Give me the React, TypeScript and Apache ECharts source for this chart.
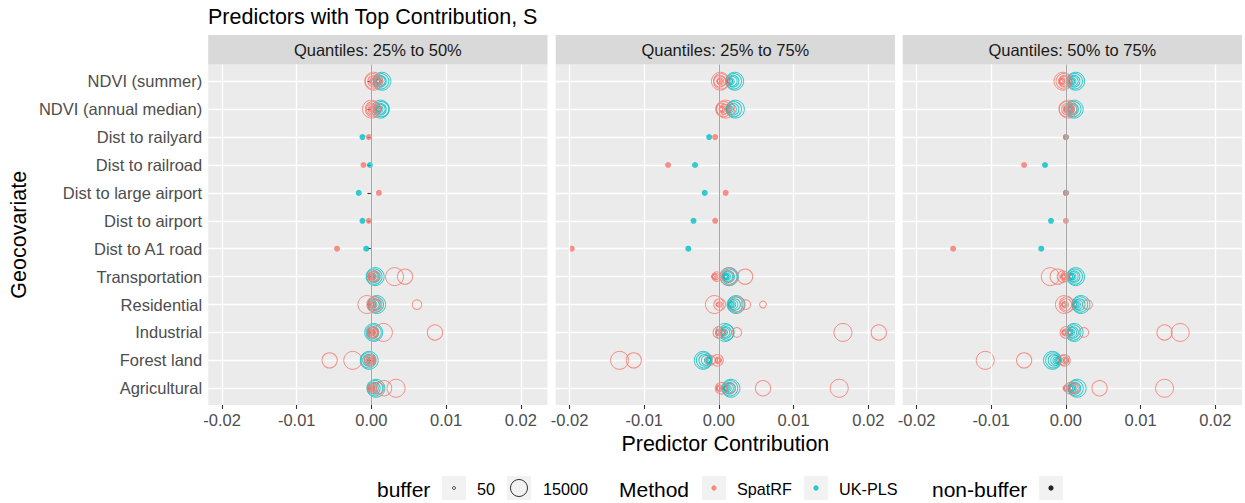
import React, { useEffect, useRef } from "react";
import * as echarts from "echarts";

const TITLE = "Predictors with Top Contribution, S";
const X_TITLE = "Predictor Contribution";
const Y_TITLE = "Geocovariate";
const PANELS = ["Quantiles: 25% to 50%", "Quantiles: 25% to 75%", "Quantiles: 50% to 75%"];
const CATEGORIES = [
  "NDVI (summer)",
  "NDVI (annual median)",
  "Dist to railyard",
  "Dist to railroad",
  "Dist to large airport",
  "Dist to airport",
  "Dist to A1 road",
  "Transportation",
  "Residential",
  "Industrial",
  "Forest land",
  "Agricultural",
];
const X_MAJOR = [-0.02, -0.01, 0, 0.01, 0.02];
const X_MINOR = [-0.015, -0.005, 0.005, 0.015];
const BUFFERS = [50, 100, 300, 500, 1000, 3000, 5000, 10000, 15000];
const NON_BUFFER_VARS = ["Dist to railyard", "Dist to railroad", "Dist to large airport", "Dist to airport", "Dist to A1 road"];

// non-buffer predictors, one value per variable (order of NON_BUFFER_VARS), one row per panel
const SPATRF_NONBUF = [
  [-0.00035, -0.00106, 0.001, -0.00035, -0.0046],
  [-0.0005, -0.0068, 0.0009, -0.0005, -0.0197],
  [0.0, -0.0056, 0.0, 0.0, -0.0151],
];
const UKPLS_NONBUF = [
  [-0.0012, -0.0002, -0.0017, -0.0012, -0.0007],
  [-0.0013, -0.0032, -0.0019, -0.0034, -0.0041],
  [0.0, -0.0028, 0.0, -0.002, -0.0033],
];

// buffer predictors: values in the order of BUFFERS
const SPATRF_BUF_25_50: Record<string, number[]> = {
  "NDVI (summer)": [0.0001, 0.0001, 0.0002, 0.0002, 0.0003, 0.0004, 0.0003, 0.0002, 0.0003],
  "NDVI (annual median)": [0.0, 0.0, 0.0001, 0.0001, 0.0002, 0.0002, 0.0001, 0.0002, 0.0],
  Transportation: [0.0, 0.0, 0.0, 0.0, 0.0001, 0.0002, 0.0003, 0.0045, 0.0031],
  Residential: [0.0, 0.0, 0.0, 0.0, 0.0001, 0.0061, 0.0003, 0.0004, -0.0006],
  Industrial: [0.0, 0.0, 0.0, 0.0, 0.0, 0.0001, 0.0002, 0.0085, 0.0016],
  "Forest land": [0.0, 0.0, 0.0, 0.0, 0.0, -0.0001, -0.0002, -0.0056, -0.0025],
  Agricultural: [0.0, 0.0, 0.0, 0.0, 0.0, 0.0001, 0.0009, 0.0017, 0.0033],
};
const UKPLS_BUF_25_50: Record<string, number[]> = {
  "NDVI (summer)": [0.0009, 0.0009, 0.001, 0.001, 0.0011, 0.0012, 0.0012, 0.0013, 0.0014],
  "NDVI (annual median)": [0.0008, 0.0009, 0.001, 0.001, 0.0011, 0.0012, 0.0012, 0.0013, 0.0012],
  Transportation: [0.0, 0.0, 0.0001, 0.0001, 0.0002, 0.0003, 0.0004, 0.0004, 0.0005],
  Residential: [0.0001, 0.0001, 0.0002, 0.0002, 0.0003, 0.0004, 0.0005, 0.0006, 0.0007],
  Industrial: [0.0, 0.0, 0.0001, 0.0001, 0.0001, 0.0002, 0.0002, 0.0003, 0.0003],
  "Forest land": [-0.0001, -0.0001, -0.0002, -0.0002, -0.0003, -0.0003, -0.0004, -0.0004, -0.0003],
  Agricultural: [0.0, 0.0, 0.0001, 0.0001, 0.0002, 0.0003, 0.0004, 0.0005, 0.0006],
};
const SPATRF_BUF_25_75: Record<string, number[]> = {
  "NDVI (summer)": [0.0, 0.0, 0.0001, 0.0001, 0.0002, 0.0004, 0.0001, 0.0003, 0.0002],
  "NDVI (annual median)": [0.0003, 0.0003, 0.0004, 0.0004, 0.0005, 0.0007, 0.0004, 0.0006, 0.0009],
  Transportation: [-0.0008, -0.0007, -0.0006, -0.0005, -0.0004, -0.0003, 0.0012, 0.0035, 0.0013],
  Residential: [-0.0002, -0.0001, 0.0, 0.0001, 0.0059, 0.0036, 0.0001, 0.0024, -0.0006],
  Industrial: [-0.0001, -0.0001, -0.0001, 0.0, 0.0, 0.0024, 0.0, 0.0214, 0.0166],
  "Forest land": [0.0, 0.0, -0.0001, -0.0001, -0.0001, -0.0011, -0.0002, -0.0114, -0.0133],
  Agricultural: [0.0, 0.0, 0.0, 0.0, 0.0001, 0.0016, 0.0003, 0.0059, 0.0161],
};
const UKPLS_BUF_25_75: Record<string, number[]> = {
  "NDVI (summer)": [0.0013, 0.0014, 0.0015, 0.0015, 0.0016, 0.0018, 0.0019, 0.002, 0.0021],
  "NDVI (annual median)": [0.0011, 0.0012, 0.0013, 0.0014, 0.0015, 0.0017, 0.0019, 0.002, 0.0022],
  Transportation: [0.0009, 0.0009, 0.001, 0.001, 0.0011, 0.0012, 0.0013, 0.0014, 0.0014],
  Residential: [0.0014, 0.0015, 0.0016, 0.0017, 0.0018, 0.0019, 0.0021, 0.0022, 0.0023],
  Industrial: [0.0005, 0.0005, 0.0006, 0.0006, 0.0007, 0.0008, 0.0009, 0.001, 0.0008],
  "Forest land": [-0.0012, -0.0013, -0.0014, -0.0014, -0.0015, -0.0017, -0.0019, -0.002, -0.0021],
  Agricultural: [0.0008, 0.0009, 0.001, 0.0011, 0.0012, 0.0013, 0.0014, 0.0015, 0.0016],
};
const SPATRF_BUF_50_75: Record<string, number[]> = {
  "NDVI (summer)": [-0.0006, -0.0006, -0.0005, -0.0005, -0.0004, -0.0003, -0.0002, -0.0003, -0.0004],
  "NDVI (annual median)": [0.0, 0.0, 0.0001, 0.0001, 0.0002, 0.0003, 0.0002, 0.0001, 0.0003],
  Transportation: [-0.0003, -0.0003, -0.0002, -0.0002, -0.0002, -0.0001, -0.0004, -0.0011, -0.0021],
  Residential: [-0.0003, -0.0003, -0.0002, -0.0002, -0.0001, 0.0029, 0.0, 0.0001, -0.0002],
  Industrial: [-0.0002, -0.0002, -0.0002, -0.0001, -0.0001, 0.0024, 0.0, 0.0132, 0.0153],
  "Forest land": [0.0, 0.0, 0.0, 0.0, -0.0001, -0.0003, -0.0002, -0.0056, -0.0108],
  Agricultural: [0.0, 0.0, 0.0, 0.0, 0.0001, 0.0012, 0.0006, 0.0045, 0.0132],
};
const UKPLS_BUF_50_75: Record<string, number[]> = {
  "NDVI (summer)": [0.0006, 0.0007, 0.0008, 0.0008, 0.0009, 0.001, 0.0011, 0.0012, 0.0013],
  "NDVI (annual median)": [0.0005, 0.0005, 0.0006, 0.0006, 0.0007, 0.0008, 0.0009, 0.001, 0.0011],
  Transportation: [0.0007, 0.0007, 0.0008, 0.0008, 0.0009, 0.001, 0.0011, 0.0012, 0.0013],
  Residential: [0.0012, 0.0012, 0.0013, 0.0014, 0.0015, 0.0016, 0.0018, 0.0019, 0.002],
  Industrial: [0.0005, 0.0005, 0.0006, 0.0006, 0.0007, 0.0008, 0.0009, 0.001, 0.0011],
  "Forest land": [-0.001, -0.001, -0.0011, -0.0012, -0.0013, -0.0014, -0.0016, -0.0017, -0.0018],
  Agricultural: [0.0007, 0.0007, 0.0008, 0.0008, 0.0009, 0.001, 0.0012, 0.0013, 0.0015],
};
const SPATRF_BUF = [SPATRF_BUF_25_50, SPATRF_BUF_25_75, SPATRF_BUF_50_75];
const UKPLS_BUF = [UKPLS_BUF_25_50, UKPLS_BUF_25_75, UKPLS_BUF_50_75];

const RED = "#F8766D";
const TEAL = "#00BFC4";
const FONT = "'Liberation Sans', Arial, sans-serif";

const X_MIN = -0.02185;
const X_MAX = 0.02357;
const PANEL_LEFT = [208.2, 555.7, 902.7];
const PANEL_W = 339.3;
const PANEL_TOP = 64.5;
const PANEL_H = 340.5;
const UNIT = PANEL_H / (CATEGORIES.length - 1 + 1.2);
const INNER_TOP = PANEL_TOP + 0.6 * UNIT;
const INNER_H = (CATEGORIES.length - 1) * UNIT;

const B_MIN = BUFFERS[0];
const B_MAX = BUFFERS[BUFFERS.length - 1];
function bufferSize(b: number) {
  return 3 + 15 * Math.sqrt((b - B_MIN) / (B_MAX - B_MIN));
}

function bufData(table: Record<string, number[]>) {
  const out: any[] = [];
  Object.keys(table).forEach((k) => {
    table[k].forEach((v, i) => out.push([v, k, BUFFERS[i]]));
  });
  return out;
}
function nonBufData(row: number[]) {
  return row.map((v, i) => [v, NON_BUFFER_VARS[i]]);
}

export default function App() {
  const ref = useRef<HTMLDivElement>(null);
  useEffect(() => {
    if (!ref.current) return;
    const chart = echarts.init(ref.current, undefined, { renderer: "svg" });
    const grid: any[] = [];
    const xAxis: any[] = [];
    const yAxis: any[] = [];
    const series: any[] = [];
    const graphic: any[] = [];

    PANELS.forEach((label, p) => {
      const left = PANEL_LEFT[p];
      grid.push({
        left,
        top: PANEL_TOP,
        width: PANEL_W,
        height: PANEL_H,
        show: true,
        backgroundColor: "#EBEBEB",
        borderWidth: 0,
      });
      grid.push({ left, top: INNER_TOP, width: PANEL_W, height: INNER_H });

      xAxis.push({
        type: "value",
        gridIndex: 2 * p,
        min: X_MIN,
        max: X_MAX,
        axisLine: { show: false },
        axisTick: {
          show: true,
          customValues: X_MAJOR,
          length: 4,
          lineStyle: { color: "#333333", width: 1.1 },
        },
        axisLabel: {
          customValues: X_MAJOR,
          formatter: (v: number) => v.toFixed(2),
          color: "#4D4D4D",
          fontSize: 16.5,
          fontFamily: FONT,
          margin: 6,
        },
        splitLine: { show: false },
        name: p === 1 ? X_TITLE : "",
        nameLocation: "middle",
        nameGap: 25,
        nameTextStyle: { color: "#000", fontSize: 21.5, fontFamily: FONT },
      });
      xAxis.push({
        type: "value",
        gridIndex: 2 * p + 1,
        min: X_MIN,
        max: X_MAX,
        show: false,
        splitLine: { show: false },
      });
      yAxis.push({
        type: "value",
        gridIndex: 2 * p,
        min: 0,
        max: 1,
        show: false,
        splitLine: { show: false },
      });
      yAxis.push({
        type: "category",
        gridIndex: 2 * p + 1,
        data: CATEGORIES,
        inverse: true,
        boundaryGap: false,
        axisLine: { show: false },
        axisTick: {
          show: p === 0,
          interval: 0,
          length: 4,
          lineStyle: { color: "#333333", width: 1.1 },
        },
        axisLabel: {
          show: p === 0,
          interval: 0,
          color: "#4D4D4D",
          fontSize: 16.5,
          fontFamily: FONT,
          margin: 6,
        },
        splitLine: { show: true, interval: 0, lineStyle: { color: "#FFFFFF", width: 1.3 } },
        name: p === 0 ? Y_TITLE : "",
        nameLocation: "middle",
        nameRotate: 90,
        nameGap: 178,
        nameTextStyle: { color: "#000", fontSize: 21.5, fontFamily: FONT },
      });

      series.push({
        type: "scatter",
        name: "grid" + p,
        xAxisIndex: 2 * p,
        yAxisIndex: 2 * p,
        data: [[0, 0.5]],
        symbolSize: 0,
        silent: true,
        z: 1,
        markLine: {
          silent: true,
          symbol: ["none", "none"],
          label: { show: false },
          emphasis: { disabled: true },
          data: [
            ...X_MINOR.map((v) => ({ xAxis: v, lineStyle: { color: "#FFFFFF", width: 0.7, type: "solid" } })),
            ...X_MAJOR.map((v) => ({ xAxis: v, lineStyle: { color: "#FFFFFF", width: 1.3, type: "solid" } })),
            { xAxis: 0, lineStyle: { color: "#A6A6A6", width: 1, type: "solid" } },
          ],
        },
      });
      series.push({
        type: "scatter",
        name: "UK-PLS",
        xAxisIndex: 2 * p + 1,
        yAxisIndex: 2 * p + 1,
        data: bufData(UKPLS_BUF[p]),
        symbol: "circle",
        symbolSize: (v: any) => bufferSize(v[2]),
        itemStyle: { color: "rgba(0,0,0,0)", borderColor: TEAL, borderWidth: 1, opacity: 0.8 },
        silent: true,
        z: 3,
      });
      series.push({
        type: "scatter",
        name: "SpatRF",
        xAxisIndex: 2 * p + 1,
        yAxisIndex: 2 * p + 1,
        data: bufData(SPATRF_BUF[p]),
        symbol: "circle",
        symbolSize: (v: any) => bufferSize(v[2]),
        itemStyle: { color: "rgba(0,0,0,0)", borderColor: RED, borderWidth: 1, opacity: 0.8 },
        silent: true,
        z: 3,
      });
      series.push({
        type: "scatter",
        name: "UK-PLS non-buffer",
        xAxisIndex: 2 * p + 1,
        yAxisIndex: 2 * p + 1,
        data: nonBufData(UKPLS_NONBUF[p]),
        symbol: "circle",
        symbolSize: 6,
        itemStyle: { color: TEAL, opacity: 0.8 },
        silent: true,
        z: 3,
      });
      series.push({
        type: "scatter",
        name: "SpatRF non-buffer",
        xAxisIndex: 2 * p + 1,
        yAxisIndex: 2 * p + 1,
        data: nonBufData(SPATRF_NONBUF[p]),
        symbol: "circle",
        symbolSize: 6,
        itemStyle: { color: RED, opacity: 0.8 },
        silent: true,
        z: 3,
      });

      graphic.push({
        type: "rect",
        shape: { x: left, y: 35, width: PANEL_W, height: PANEL_TOP - 35 },
        style: { fill: "#D9D9D9" },
        silent: true,
      });
      graphic.push({
        type: "text",
        x: left + PANEL_W / 2,
        y: (35 + PANEL_TOP) / 2 + 0.5,
        style: {
          text: label,
          fill: "#1A1A1A",
          fontSize: 16.5,
          fontFamily: FONT,
          align: "center",
          verticalAlign: "middle",
        },
        silent: true,
      });
    });

    // legend
    const LY = 488;
    const keyBox = (x: number) => ({
      type: "rect",
      shape: { x, y: LY - 12, width: 24, height: 24 },
      style: { fill: "#F2F2F2" },
      silent: true,
    });
    const txt = (x: number, s: string, size: number) => ({
      type: "text",
      x,
      y: LY + 1,
      style: { text: s, fill: "#000", fontSize: size, fontFamily: FONT, verticalAlign: "middle" },
      silent: true,
    });
    graphic.push(txt(377, "buffer", 21));
    graphic.push(keyBox(442));
    graphic.push({
      type: "circle",
      shape: { cx: 454, cy: LY, r: bufferSize(B_MIN) / 2 },
      style: { fill: "none", stroke: "#333", lineWidth: 1 },
      silent: true,
    });
    graphic.push(txt(477, String(B_MIN), 16.2));
    graphic.push(keyBox(507));
    graphic.push({
      type: "circle",
      shape: { cx: 519, cy: LY, r: bufferSize(B_MAX) / 2 - 0.5 },
      style: { fill: "none", stroke: "#333", lineWidth: 1 },
      silent: true,
    });
    graphic.push(txt(543, String(B_MAX), 16.2));
    graphic.push(txt(619, "Method", 21));
    graphic.push(keyBox(702));
    graphic.push({
      type: "circle",
      shape: { cx: 714, cy: LY, r: 2.6 },
      style: { fill: RED, opacity: 0.85 },
      silent: true,
    });
    graphic.push(txt(737, "SpatRF", 16.2));
    graphic.push(keyBox(804));
    graphic.push({
      type: "circle",
      shape: { cx: 816, cy: LY, r: 2.6 },
      style: { fill: TEAL, opacity: 0.85 },
      silent: true,
    });
    graphic.push(txt(839, "UK-PLS", 16.2));
    graphic.push(txt(932, "non-buffer", 21));
    graphic.push(keyBox(1039));
    graphic.push({
      type: "circle",
      shape: { cx: 1051, cy: LY, r: 2.6 },
      style: { fill: "#000", opacity: 0.85 },
      silent: true,
    });

    chart.setOption({
      animation: false,
      backgroundColor: "#FFFFFF",
      title: {
        text: TITLE,
        left: 208,
        top: 4,
        padding: 0,
        textStyle: { color: "#000", fontSize: 21.5, fontWeight: "normal", fontFamily: FONT, lineHeight: 26 },
      },
      grid,
      xAxis,
      yAxis,
      series,
      graphic,
    });
    return () => chart.dispose();
  }, []);
  return <div ref={ref} style={{ position: "fixed", left: 0, top: 0, width: 1245, height: 503 }} />;
}
